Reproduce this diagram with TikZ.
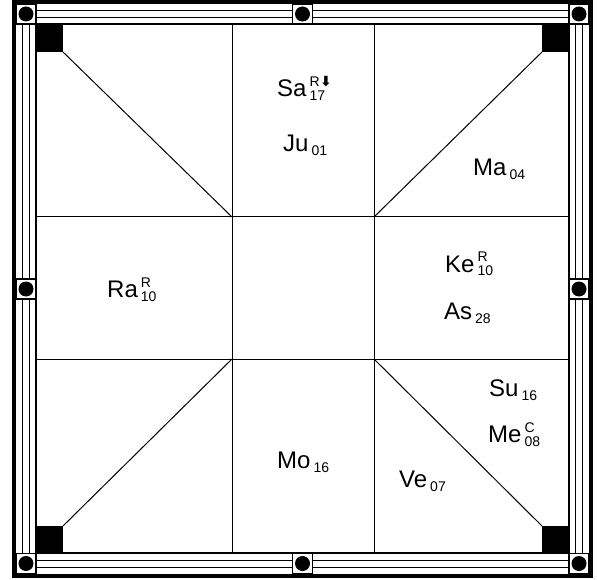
\documentclass[tikz,border=0pt]{standalone}
\usepackage{fontspec}
\setmainfont{Liberation Sans}
\newfontfamily\arrowfont{DejaVu Sans}
\usetikzlibrary{calc}

% planet with degree below and optional mark above
\newcommand\grah[3]{#1\kern3pt\rlap{\raisebox{10pt}{\fontsize{14}{14}\selectfont #2}}\raisebox{-4pt}{\fontsize{14}{14}\selectfont #3}}
\newcommand\vakri{{\arrowfont\bfseries\fontsize{14}{14}\selectfont\kern0.5pt ⬇}}

\begin{document}
\begin{tikzpicture}[x=1pt,y=-1pt,
  rim/.style={line width=1.3pt},
  knob/.style={draw,rim,fill=white,minimum size=20pt,inner sep=0pt},
  planet/.style={anchor=base west,inner sep=0pt,font=\fontsize{24}{24}\selectfont}]
  \useasboundingbox (0,0) rectangle (597,580);
  % frame
  \draw[line width=4pt] (14,2) rectangle (591,576);
  \foreach \d in {6.7,13.3} {
    \draw[rim] (16+\d,4+\d) rectangle (589-\d,574-\d);
  }
  \draw[rim] (36,24) rectangle (569,553);
  \foreach \p [count=\i] in {(26,14),(302.5,14),(579,14),(26,289),(579,289),(26,563.5),(302.5,563.5),(579,563.5)} {
    \node[knob] (knob\i) at \p {};
    \fill (knob\i) circle (7.5);
  }
  % corner blocks
  \fill (36,24) rectangle (63,52);
  \fill (569,24) rectangle (542,52);
  \fill (36,553) rectangle (63,526);
  \fill (569,553) rectangle (542,526);
  % houses
  \coordinate (nw) at (232,217);
  \coordinate (ne) at (374,217);
  \coordinate (sw) at (232,359);
  \coordinate (se) at (374,359);
  \draw[line width=1pt] (232,24) -- (232,553) (374,24) -- (374,553)
    (36,217) -- (569,217) (36,359) -- (569,359);
  \draw[line width=1pt] (63,52) -- (nw) (542,52) -- (ne)
    (63,526) -- (sw) (542,526) -- (se);
  % planets
  \node[planet] (sa) at (277,97) {\grah{Sa}{R\vakri}{17}};
  \node[planet] (ju) at (283,152) {\grah{Ju}{}{01}};
  \node[planet] (ma) at (473,176) {\grah{Ma}{}{04}};
  \node[planet] (ra) at (107,297) {\grah{Ra}{R}{10}};
  \node[planet] (ke) at (445,272) {\grah{Ke}{R}{10}};
  \node[planet] (as) at (444,319) {\grah{As}{}{28}};
  \node[planet] (su) at (489,396) {\grah{Su}{}{16}};
  \node[planet] (me) at (488,442) {\grah{Me}{C}{08}};
  \node[planet] (mo) at (277,468) {\grah{Mo}{}{16}};
  \node[planet] (ve) at (399,487) {\grah{Ve}{}{07}};
\end{tikzpicture}
\end{document}
